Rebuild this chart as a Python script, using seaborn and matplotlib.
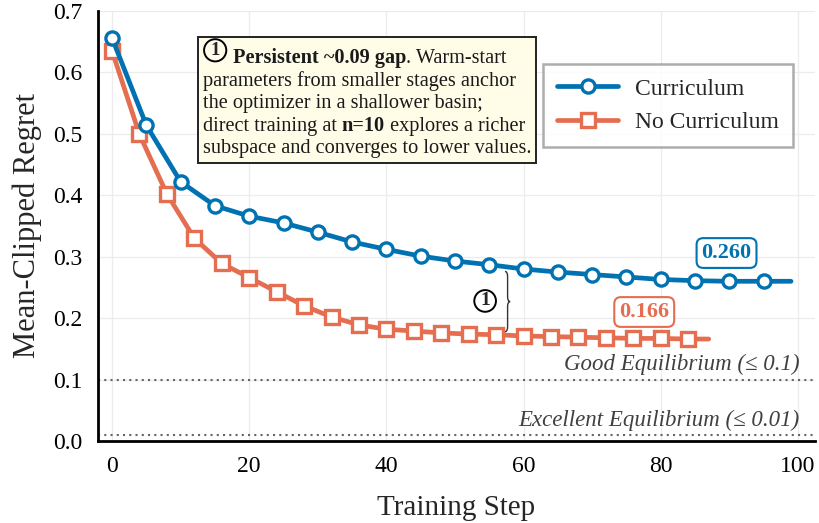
import numpy as np
import pandas as pd
import matplotlib
matplotlib.use("Agg")
import matplotlib.pyplot as plt
import seaborn as sns
from matplotlib.path import Path
from matplotlib.patches import PathPatch, Circle
from matplotlib.offsetbox import TextArea, HPacker, VPacker, AnnotationBbox, DrawingArea

# ---------------- data ----------------
curr_steps = [0, 5, 10, 15, 20, 25, 30, 35, 40, 45, 50, 55, 60, 65, 70, 75, 80, 85, 90, 95, 99]
curr_vals = [0.656, 0.514, 0.422, 0.383, 0.366, 0.355, 0.340, 0.324, 0.312, 0.301, 0.293,
             0.287, 0.280, 0.275, 0.271, 0.267, 0.263, 0.261, 0.260, 0.260, 0.260]

nocurr_steps = [0, 4, 8, 12, 16, 20, 24, 28, 32, 36, 40, 44, 48, 52, 56, 60, 64, 68, 72, 76, 80, 84, 87]
nocurr_vals = [0.635, 0.499, 0.402, 0.330, 0.289, 0.266, 0.243, 0.220, 0.202, 0.189, 0.182,
               0.179, 0.176, 0.174, 0.173, 0.171, 0.170, 0.169, 0.168, 0.167, 0.167, 0.166, 0.166]

series_names = ["Curriculum", "No Curriculum"]
final_labels = ["0.260", "0.166"]
thresholds = [0.1, 0.01]
threshold_labels = ["Good Equilibrium (≤ 0.1)", "Excellent Equilibrium (≤ 0.01)"]
x_ticks = [0, 20, 40, 60, 80, 100]
y_ticks = [0.0, 0.1, 0.2, 0.3, 0.4, 0.5, 0.6, 0.7]

BLUE = "#0072B2"
ORANGE = "#E56E50"

sns.set_theme(style="white")
plt.rcParams["font.family"] = ["Liberation Serif", "DejaVu Serif"]

fig = plt.figure(figsize=(8.2, 5.23), dpi=100)
ax = fig.add_axes([98 / 820, 1 - 441 / 523, (815 - 98) / 820, (441 - 11) / 523])

df_c = pd.DataFrame({"step": curr_steps, "val": curr_vals})
df_n = pd.DataFrame({"step": nocurr_steps, "val": nocurr_vals})

sns.lineplot(data=df_c, x="step", y="val", ax=ax, color=BLUE, lw=3.4, marker="o",
             markersize=9.5, markerfacecolor="white", markeredgecolor=BLUE, markeredgewidth=2.4,
             markevery=list(range(len(curr_steps) - 1)), label=series_names[0], zorder=4)
sns.lineplot(data=df_n, x="step", y="val", ax=ax, color=ORANGE, lw=3.4, marker="s",
             markersize=9.5, markerfacecolor="white", markeredgecolor=ORANGE, markeredgewidth=2.4,
             markevery=list(range(len(nocurr_steps) - 1)), label=series_names[1], zorder=3)

# thresholds
for t in thresholds:
    ax.axhline(t, color="#666666", lw=1.5, ls=(0, (1, 2)), zorder=1)
ax.text(100.2, 0.107, threshold_labels[0], ha="right", va="bottom", style="italic",
        fontsize=16.5, color="#404040")
ax.text(100.2, 0.017, threshold_labels[1], ha="right", va="bottom", style="italic",
        fontsize=16.5, color="#404040")

# axes styling
ax.set_xlim(-2.05, 102.5)
ax.set_ylim(0, 0.7)
ax.set_xticks(x_ticks)
ax.set_yticks(y_ticks)
ax.set_yticklabels([f"{v:.1f}" for v in y_ticks])
ax.grid(True, color="#ececec", lw=0.9)
ax.set_axisbelow(True)
for s in ["top", "right"]:
    ax.spines[s].set_visible(False)
for s in ["left", "bottom"]:
    ax.spines[s].set_linewidth(2.0)
    ax.spines[s].set_color("black")
ax.tick_params(axis="both", direction="out", length=6, width=2.0, labelsize=17,
               colors="black", pad=5)
ax.set_xlabel("Training Step", fontsize=21, labelpad=13)
ax.set_ylabel("Mean-Clipped Regret", fontsize=22, labelpad=8)

# legend
leg = ax.legend(loc="upper right", bbox_to_anchor=(0.969, 0.877), fontsize=17,
                frameon=True, fancybox=False, edgecolor="#999999", handlelength=2.6,
                borderpad=0.6, labelspacing=0.5, handletextpad=0.7, borderaxespad=0)
leg.get_frame().set_linewidth(1.8)

# final value labels
ax.text(89.6, 0.306, final_labels[0], ha="center", va="center", fontsize=16, fontweight="bold",
        color=BLUE, zorder=6,
        bbox=dict(boxstyle="round,pad=0.22,rounding_size=0.3", fc="white", ec=BLUE, lw=1.5))
ax.text(77.6, 0.210, final_labels[1], ha="center", va="center", fontsize=16, fontweight="bold",
        color=ORANGE, zorder=6,
        bbox=dict(boxstyle="round,pad=0.22,rounding_size=0.3", fc="white", ec=ORANGE, lw=1.5))

# brace "}" between curves
x0, w = 57.3, 0.75
ytop, ybot = 0.276, 0.178
ymid = (ytop + ybot) / 2
dy = 0.008
verts = [(x0, ytop), (x0 + w / 2, ytop), (x0 + w / 2, ytop - dy),
         (x0 + w / 2, ymid + dy),
         (x0 + w / 2, ymid), (x0 + w, ymid),
         (x0 + w / 2, ymid), (x0 + w / 2, ymid - dy),
         (x0 + w / 2, ybot + dy),
         (x0 + w / 2, ybot), (x0, ybot)]
codes = [Path.MOVETO, Path.CURVE3, Path.CURVE3, Path.LINETO, Path.CURVE3, Path.CURVE3,
         Path.CURVE3, Path.CURVE3, Path.LINETO, Path.CURVE3, Path.CURVE3]
ax.add_patch(PathPatch(Path(verts, codes), fc="none", ec="#333333", lw=1.0, zorder=5))
ax.text(54.4, 0.228, "1", ha="center", va="center", fontsize=14, fontweight="bold",
        bbox=dict(boxstyle="circle,pad=0.12", fc="white", ec="black", lw=1.4), zorder=6)

# annotation box
fs = 14.6
norm = dict(fontsize=fs, color="#1a1a1a")
bold = dict(fontsize=fs, color="#1a1a1a", fontweight="bold")


def circ_num():
    da = DrawingArea(18, 18, 0, 3.0)
    da.add_artist(Circle((9, 9), 8.0, fc="none", ec="black", lw=1.4))
    da.add_artist(plt.Text(9, 8.5, "1", ha="center", va="center", fontsize=13.5,
                           fontweight="bold", family="Liberation Serif"))
    return da


line1 = HPacker(children=[circ_num(), TextArea(" Persistent ~0.09 gap", textprops=bold),
                          TextArea(". Warm-start", textprops=norm)], sep=0, align="baseline")
line2 = TextArea("parameters from smaller stages anchor", textprops=norm)
line3 = TextArea("the optimizer in a shallower basin;", textprops=norm)
line4 = HPacker(children=[TextArea("direct training at ", textprops=norm),
                          TextArea("n=10", textprops=bold),
                          TextArea(" explores a richer", textprops=norm)], sep=0, align="baseline")
line5 = TextArea("subspace and converges to lower values.", textprops=norm)
box = VPacker(children=[line1, line2, line3, line4, line5], sep=2.3, align="left", pad=0)
ab = AnnotationBbox(box, (0.146, 0.928), xycoords="axes fraction", box_alignment=(0, 1),
                    frameon=True, pad=0.3,
                    bboxprops=dict(boxstyle="square", fc="#FFFDE8", ec="#222222", lw=1.4),
                    zorder=7)
ax.add_artist(ab)

fig.savefig("out.png", dpi=100)
